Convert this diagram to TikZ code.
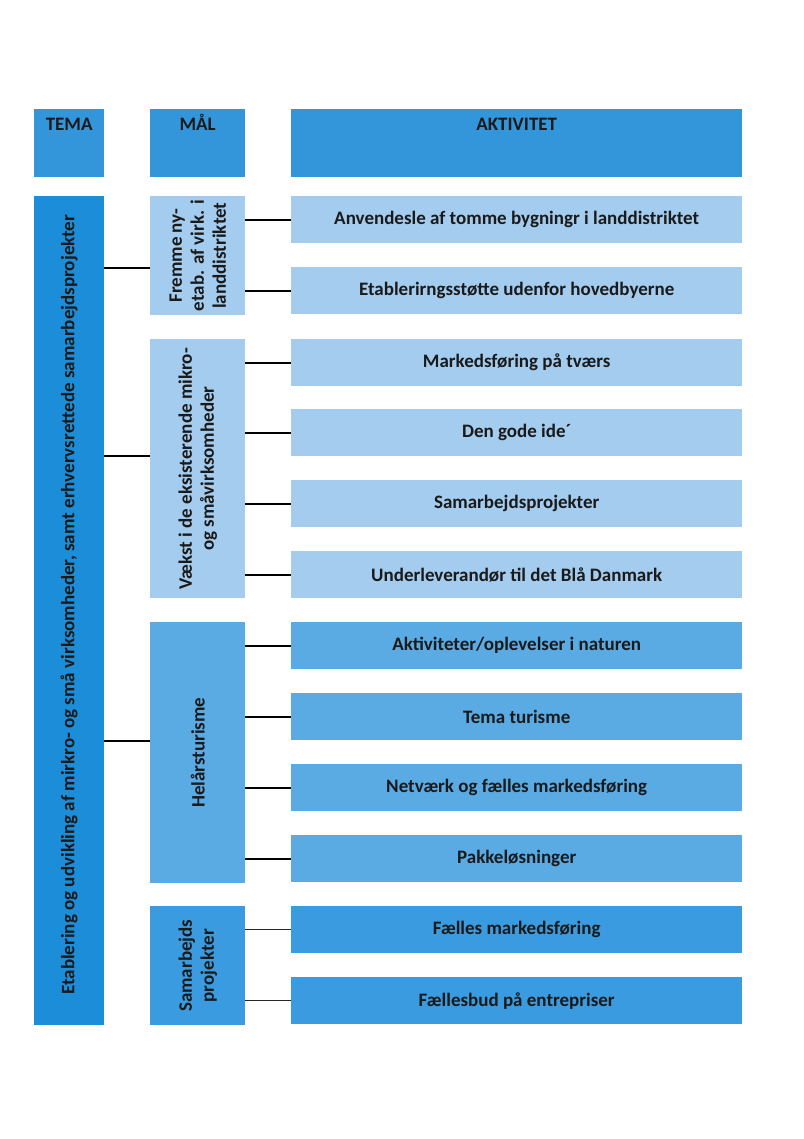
\documentclass[tikz,border=0pt]{standalone}
\usepackage{fontspec}
\setmainfont{Carlito}
\definecolor{hdr}{HTML}{3396DB}
\definecolor{temac}{HTML}{1C8DD8}
\definecolor{light}{HTML}{A4CCEE}
\definecolor{mid}{HTML}{5AAAE4}
\definecolor{strong}{HTML}{3A9BE0}
\definecolor{txt}{HTML}{1A1A1A}
\begin{document}
\begin{tikzpicture}[x=1pt,y=-1pt,
  box/.style={fill=#1,draw=none,inner sep=0pt,text=txt,font=\bfseries\fontsize{19}{22}\selectfont,align=center},
  lbl/.style={inner sep=0pt,text=txt,font=\bfseries\fontsize{19}{22}\selectfont,align=center},
  conn/.style={draw=black,line width=2.2pt},
  thin/.style={draw=black!85,line width=1.3pt}]
\useasboundingbox[fill=white] (0,0) rectangle (803,1139);
% headers
\node[box=hdr,minimum width=70pt,minimum height=68pt,anchor=north west] (h1) at (34,109) {};
\node[lbl,anchor=base] (t1) at (h1.north |- 0,131) {TEMA};
\node[box=hdr,minimum width=95pt,minimum height=68pt,anchor=north west] (h2) at (150,109) {};
\node[lbl,anchor=base] (t2) at (h2.north |- 0,131) {MÅL};
\node[box=hdr,minimum width=451pt,minimum height=68pt,anchor=north west] (h3) at (291,109) {};
\node[lbl,anchor=base] (t3) at (h3.north |- 0,131) {AKTIVITET};
% tema
\node[box=temac,minimum width=70pt,minimum height=829pt,anchor=north west] (tema) at (34,196) {};
\node[lbl,rotate=90] (tt) at ([yshift=6pt]tema.center) {Etablering og udvikling af mirkro- og små virksomheder, samt erhvervsrettede samarbejdsprojekter};
% maal
\node[box=light,minimum width=95pt,minimum height=119pt,anchor=north west] (m1) at (150,196) {};
\node[lbl,rotate=90] (mt1) at (m1.center) {Fremme ny-\\etab. af virk. i\\landdistriktet};
\node[box=light,minimum width=95pt,minimum height=259pt,anchor=north west] (m2) at (150,339) {};
\node[lbl,rotate=90] (mt2) at (m2.center) {Vækst i de eksisterende mikro-\\og småvirksomheder};
\node[box=mid,minimum width=95pt,minimum height=261pt,anchor=north west] (m3) at (150,622) {};
\node[lbl,rotate=90] (mt3) at (m3.center) {Helårsturisme};
\node[box=strong,minimum width=95pt,minimum height=119pt,anchor=north west] (m4) at (150,906) {};
\node[lbl,rotate=90] (mt4) at (m4.center) {Samarbejds\\projekter};
% activities
\foreach \i/\y/\c/\t in {1/196/light/{Anvendesle af tomme bygningr i landdistriktet},
  2/267/light/{Etablerirngsstøtte udenfor hovedbyerne},
  3/339/light/{Markedsføring på tværs},
  4/409/light/{Den gode ide´},
  5/480/light/{Samarbejdsprojekter},
  6/551/light/{Underleverandør til det Blå Danmark},
  7/622/mid/{Aktiviteter/oplevelser i naturen},
  8/693/mid/{Tema turisme},
  9/764/mid/{Netværk og fælles markedsføring},
  10/835/mid/{Pakkeløsninger},
  11/906/strong/{Fælles markedsføring},
  12/977/strong/{Fællesbud på entrepriser}}
  \node[box=\c,minimum width=451pt,minimum height=47pt,anchor=north west] (a\i) at (291,\y) {\t};
% connectors tema -> maal
\draw[conn] (tema.east |- 0,268) -- (m1.west |- 0,268);
\draw[conn] (tema.east |- 0,456) -- (m2.west |- 0,456);
\draw[conn] (tema.east |- 0,741) -- (m3.west |- 0,741);
% connectors maal -> aktivitet
\foreach \i in {1,2} \draw[conn] (m1.east |- a\i.west) -- (a\i.west);
\foreach \i in {3,4,5,6} \draw[conn] (m2.east |- a\i.west) -- (a\i.west);
\foreach \i in {7,8,9,10} \draw[conn] (m3.east |- a\i.west) -- (a\i.west);
\foreach \i in {11,12} \draw[thin] (m4.east |- a\i.west) -- (a\i.west);
\end{tikzpicture}
\end{document}
